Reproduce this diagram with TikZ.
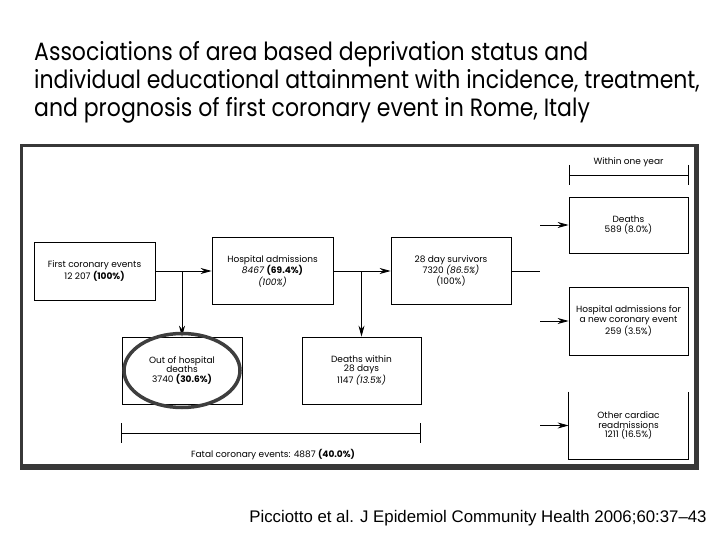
\documentclass[tikz,border=0pt]{standalone}
\usepackage{fontspec}
\setmainfont{Poppins}
\newfontfamily\titlefont{Poppins}[FakeStretch=0.88]
\newfontfamily\citefont{Liberation Sans}
\usetikzlibrary{arrows.meta}
\definecolor{framegray}{HTML}{383838}
\definecolor{ringgray}{HTML}{3E3E3E}

\begin{document}
\begin{tikzpicture}[x=1pt,y=-1pt,
	box/.style={draw,line width=0.8pt,inner sep=1pt,align=center,font=\fontsize{9}{9.5}\selectfont},
	arr/.style={line width=0.8pt,-{Stealth[length=11pt,width=6pt]}},
	link/.style={line width=0.8pt},
	ring/.style={line width=3.5pt,draw=ringgray},
	lab/.style={font=\fontsize{9}{9.5}\selectfont,inner sep=1pt}]
	\useasboundingbox (0,0) rectangle (720,540);
	
	% title and source
	\node[anchor=north west,align=left,inner sep=0pt,font=\titlefont\fontsize{25}{28}\selectfont] (title) at (34,41)
		{Associations of area based deprivation status and\\
		 individual educational attainment with incidence, treatment,\\
		 and prognosis of first coronary event in Rome, Italy};
	\node[font=\citefont\fontsize{16.8}{18}\selectfont,inner sep=0pt] (cite) at (478,518)
		{Picciotto et al. J Epidemiol Community Health 2006;60:37\textendash 43};
	
	% frame
	\fill[framegray] (20,144) rectangle (699,470);
	\fill[white] (23,147.5) rectangle (694,464);
	
	% boxes
	\node[box,minimum width=121pt,minimum height=58pt] (first) at (94.5,271) {First coronary events\\12 207 \textbf{(100\%)}};
	\node[box,minimum width=121pt,minimum height=67pt] (hosp) at (272.5,271) {Hospital admissions\\\textit{8467} \textbf{(69.4\%)}\\\textit{(100\%)}};
	\node[box,minimum width=120pt,minimum height=67pt] (surv) at (451,271) {28 day survivors\\7320 \textit{(86.5\%)}\\(100\%)};
	\node[box,minimum width=120pt,minimum height=67pt] (outh) at (182,370.5) {Out of hospital\\deaths\\3740 \textbf{(30.6\%)}};
	\node[box,minimum width=119pt,minimum height=67pt] (within) at (361.5,370.5) {Deaths within\\28 days\\1147 \textit{(13.5\%)}};
	\node[box,minimum width=119pt,minimum height=56pt] (deaths) at (628.5,225) {Deaths\\589 (8.0\%)};
	\node[box,minimum width=119pt,minimum height=68pt] (newev) at (628.5,321) {Hospital admissions for\\a new coronary event\\259 (3.5\%)};
	\node[box,draw=none,minimum width=119pt,minimum height=67pt] (other) at (628.5,425.5) {Other cardiac\\readmissions\\1211 (16.5\%)};
	\draw[link] (other.north west) -- (other.south west) -- (other.south east) -- (other.north east);
	
	% connectors
	\draw[arr] (first) -- (hosp);
	\draw[arr] (outh.north |- first.east) -- (outh.north);
	\draw[arr] (hosp) -- (surv);
	\draw[arr] (within.north |- hosp.east) -- (within.north);
	\coordinate (fork) at (540,271);
	\draw[link] (surv.east) -- (fork);
	\draw[arr] (deaths.west -| fork) -- (deaths.west);
	\draw[arr] (newev.west -| fork) -- (newev.west);
	\draw[arr] (other.west -| fork) -- (other.west);
	
	% brackets
	\draw[link] (569,165) -- (569,185) (688,165) -- (688,185) (569,175) -- (688,175);
	\node[lab] (year) at (628.5,162) {Within one year};
	\draw[link] (121,423) -- (121,443) (420,423) -- (420,443) (121,433) -- (420,433);
	\node[lab] (fatal) at (273,455) {Fatal coronary events: 4887 \textbf{(40.0\%)}};
	
	% highlight
	\draw[ring] (outh.center) ellipse [x radius=58pt,y radius=37pt];
\end{tikzpicture}
\end{document}
